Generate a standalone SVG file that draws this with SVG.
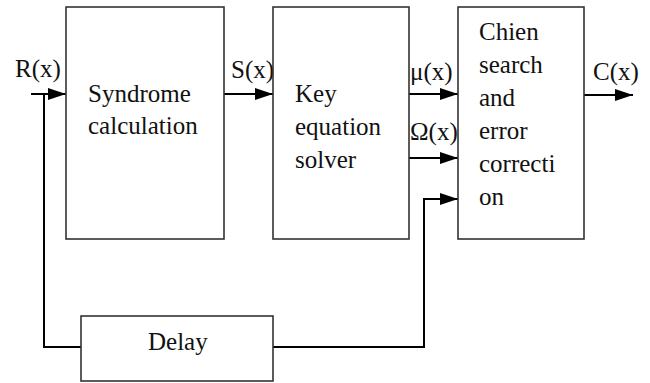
<svg xmlns="http://www.w3.org/2000/svg" width="650" height="383" viewBox="0 0 650 383">
<defs>
<marker id="arr" markerUnits="userSpaceOnUse" markerWidth="19" markerHeight="13" refX="18" refY="6" orient="auto">
<path d="M0,0 L18,6 L0,12 Z" fill="#000"/>
</marker>
<style>
.box{fill:#fff;stroke:#333;stroke-width:1.6}
.t{font-family:'Liberation Serif','DejaVu Serif',serif;font-size:25px;fill:#111}
.c{fill:none;stroke:#000;stroke-width:2}
</style>
</defs>
<rect width="650" height="383" fill="#fff"/>
<g id="connectors">
<line class="c" x1="31" y1="94" x2="66" y2="94" marker-end="url(#arr)"/>
<polyline class="c" points="44,94 44,347 81,347"/>
<line class="c" x1="224" y1="94" x2="273" y2="94" marker-end="url(#arr)"/>
<line class="c" x1="409" y1="94" x2="458" y2="94" marker-end="url(#arr)"/>
<line class="c" x1="409" y1="158" x2="458" y2="158" marker-end="url(#arr)"/>
<polyline class="c" points="273,347 424,347 424,199 458,199" marker-end="url(#arr)"/>
<line class="c" x1="584" y1="95" x2="633" y2="95" marker-end="url(#arr)"/>
<text class="t" x="15" y="77">R(x)</text>
<text class="t" x="231" y="78">S(x)</text>
<text class="t" x="410" y="80">μ(x)</text>
<text class="t" x="410" y="140">Ω(x)</text>
<text class="t" x="593" y="80">C(x)</text>
</g>
<g id="syndrome">
<rect class="box" x="66" y="7" width="158" height="232"/>
<text class="t" x="88" y="102">Syndrome</text>
<text class="t" x="88" y="134">calculation</text>
</g>
<g id="key">
<rect class="box" x="273" y="7" width="136" height="232"/>
<text class="t" x="295" y="102">Key</text>
<text class="t" x="295" y="135">equation</text>
<text class="t" x="295" y="168">solver</text>
</g>
<g id="chien">
<rect class="box" x="458" y="7" width="126" height="232"/>
<text class="t" x="479" y="40">Chien</text>
<text class="t" x="479" y="73">search</text>
<text class="t" x="479" y="106">and</text>
<text class="t" x="479" y="139">error</text>
<text class="t" x="479" y="172">correcti</text>
<text class="t" x="479" y="205">on</text>
</g>
<g id="delay">
<rect class="box" x="81" y="316" width="192" height="65"/>
<text class="t" x="148" y="350">Delay</text>
</g>
</svg>
